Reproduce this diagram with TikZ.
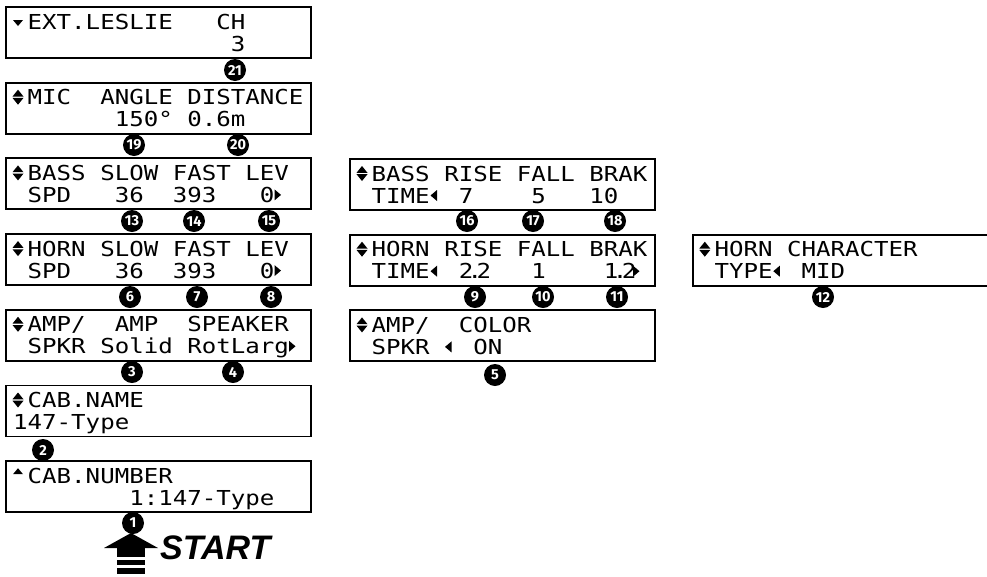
\documentclass[tikz,border=0pt]{standalone}
\usepackage{fontspec}
\newfontfamily\lcdfont{DejaVu Sans Mono}[FakeStretch=1.17]
\newfontfamily\numfont{Fira Sans}
\newfontfamily\startfont{Liberation Sans}
\usetikzlibrary{positioning}

% two text rows of one display
\newcommand\lcdrows[3]{%
  \node[row] (#1-1) at ([shift={(8,23)}]#1.north west) {#2};
  \node[row] (#1-2) at ([shift={(8,45)}]#1.north west) {#3};}
% small lcd symbol in a cell: display, column, row, pic
\newcommand\lcdsym[4]{\pic at ([shift={(8+14.5*#2,22*#3+1)}]#1.north west) {#4};}
% decimal number squeezed in two cells
\newcommand\dec[2]{\makebox[29pt][l]{#1\kern-0.27em.\kern-0.27em#2}}

\begin{document}
\begin{tikzpicture}[x=1pt, y=-1pt,
  lcd/.style={draw, line width=1.8pt, minimum width=305pt, minimum height=51pt, inner sep=0pt, anchor=north west},
  row/.style={anchor=base west, inner sep=0pt, font=\lcdfont\fontsize{20.6}{20.6}\selectfont},
  num/.style={circle, fill=black, text=white, inner sep=0pt, minimum size=22pt, font=\numfont\bfseries\fontsize{14.5}{14.5}\selectfont},
  updn/.pic={\fill (-0.5,-8.2) -- (10.5,-8.2) -- (5,-15) -- cycle; \fill (-0.5,-6.8) -- (10.5,-6.8) -- (5,0) -- cycle;},
  tdown/.pic={\fill (0,-9) -- (10,-9) -- (5,-3) -- cycle;},
  tup/.pic={\fill (0,-9) -- (10,-9) -- (5,-15) -- cycle;},
  tright/.pic={\fill (0.5,-2) -- (0.5,-13) -- (7,-7.5) -- cycle;},
  tleft/.pic={\fill (7.5,-2) -- (7.5,-13) -- (1,-7.5) -- cycle;}]
\useasboundingbox (0,0) rectangle (987,576);
\clip (0,0) rectangle (987,576);
% left column
\node[lcd] (ext) at (5,6) {};
\node[lcd, below=22.9pt of ext] (mic) {};
\node[lcd, below=22.9pt of mic] (bspd) {};
\node[lcd, below=22.9pt of bspd] (hspd) {};
\node[lcd, below=22.9pt of hspd] (amp) {};
\node[lcd, below=22.9pt of amp] (cab) {};
\node[lcd, below=22.9pt of cab] (cabno) {};
% right columns
\node[lcd] (btime) at (349,158) {};
\node[lcd, below=22.9pt of btime] (htime) {};
\node[lcd, below=22.9pt of htime] (color) {};
\node[lcd, right=36pt of htime] (hchar) {};
% display texts
\lcdrows{ext}{~EXT.LESLIE~~~CH}{~~~~~~~~~~~~~~~3}
\lcdrows{mic}{~MIC~~ANGLE~DISTANCE}{~~~~~~~150°~0.6m}
\lcdrows{bspd}{~BASS~SLOW~FAST~LEV}{~SPD~~~36~~393~~~0}
\lcdrows{hspd}{~HORN~SLOW~FAST~LEV}{~SPD~~~36~~393~~~0}
\lcdrows{amp}{~AMP/~~AMP~~SPEAKER}{~SPKR~Solid~RotLarg}
\lcdrows{cab}{~CAB.NAME}{147-Type}
\lcdrows{cabno}{~CAB.NUMBER}{~~~~~~~~1:147-Type}
\lcdrows{btime}{~BASS~RISE~FALL~BRAK}{~TIME~~7~~~~5~~~10}
\lcdrows{htime}{~HORN~RISE~FALL~BRAK}{~TIME~~\dec{2}{2}~~~1~~~~\dec{1}{2}}
\lcdrows{color}{~AMP/~~COLOR}{~SPKR~~~ON}
\lcdrows{hchar}{~HORN~CHARACTER}{~TYPE~~MID}
% lcd symbols
\lcdsym{ext}{0}{1}{tdown}
\lcdsym{mic}{0}{1}{updn}
\lcdsym{bspd}{0}{1}{updn}
\lcdsym{bspd}{18}{2}{tright}
\lcdsym{hspd}{0}{1}{updn}
\lcdsym{hspd}{18}{2}{tright}
\lcdsym{amp}{0}{1}{updn}
\lcdsym{amp}{19}{2}{tright}
\lcdsym{cab}{0}{1}{updn}
\lcdsym{cabno}{0}{1}{tup}
\lcdsym{btime}{0}{1}{updn}
\lcdsym{btime}{5}{2}{tleft}
\lcdsym{htime}{0}{1}{updn}
\lcdsym{htime}{5}{2}{tleft}
\lcdsym{htime}{19}{2}{tright}
\lcdsym{color}{0}{1}{updn}
\lcdsym{color}{6}{2}{tleft}
\lcdsym{hchar}{0}{1}{updn}
\lcdsym{hchar}{5}{2}{tleft}
% numbered callouts
\node[num] (n21) at (235,70) {21};
\node[num] (n19) at (134,145) {19};
\node[num] (n20) at (238,145) {20};
\node[num] (n13) at (132,221) {13};
\node[num] (n14) at (194,221) {14};
\node[num] (n15) at (269,221) {15};
\node[num] (n16) at (467,221) {16};
\node[num] (n17) at (533,221) {17};
\node[num] (n18) at (615,221) {18};
\node[num] (n6) at (130,297) {6};
\node[num] (n7) at (197,297) {7};
\node[num] (n8) at (271,297) {8};
\node[num] (n9) at (475,297) {9};
\node[num] (n10) at (543,297) {10};
\node[num] (n11) at (617,297) {11};
\node[num] (n12) at (823,297) {12};
\node[num] (n3) at (132,372) {3};
\node[num] (n4) at (233,372) {4};
\node[num] (n5) at (495,375) {5};
\node[num] (n2) at (43,450) {2};
\node[num] (n1) at (133,523) {1};
% start arrow
\fill (104,548) -- (131,533) -- (158,548) -- cycle;
\fill (117,547) rectangle (145,557);
\fill (117,560) rectangle (145,565);
\fill (117,568) rectangle (145,574);
\node[anchor=base west, inner sep=0pt, font=\startfont\bfseries\itshape\fontsize{34}{34}\selectfont] (start) at (160,559) {START};
\end{tikzpicture}
\end{document}
